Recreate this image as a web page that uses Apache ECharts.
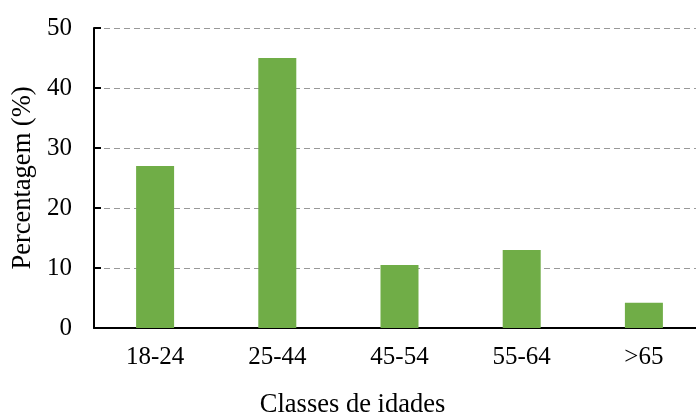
<!DOCTYPE html>
<html lang="pt">
<head>
<meta charset="utf-8">
<title>Classes de idades</title>
<script src="https://cdn.jsdelivr.net/npm/echarts@6/dist/echarts.min.js"></script>
<style>
  html, body { margin: 0; padding: 0; background: #fff; }
  #chart { width: 696px; height: 418px; }
</style>
</head>
<body>
<div id="chart"></div>
<script>
var categories = ['18-24', '25-44', '45-54', '55-64', '>65'];
var values = [27, 45, 10.5, 13, 4.2];
var yTicks = [0, 10, 20, 30, 40, 50];

var font = 'Liberation Serif';
var chart = echarts.init(document.getElementById('chart'));
chart.setOption({
  animation: false,
  grid: { left: 94, right: -9, top: 28, bottom: 90, containLabel: false, outerBoundsMode: 'none' },
  xAxis: {
    type: 'category',
    data: categories,
    name: 'Classes de idades',
    nameLocation: 'middle',
    nameGap: 64,
    nameTextStyle: { fontFamily: font, fontSize: 26.5, color: '#000', padding: [0, 94, 0, 0] },
    axisLine: { lineStyle: { color: '#000', width: 2 } },
    axisTick: { show: false },
    axisLabel: { fontFamily: font, fontSize: 25, color: '#000', margin: 17 }
  },
  yAxis: {
    type: 'value',
    min: yTicks[0],
    max: yTicks[yTicks.length - 1],
    interval: 10,
    name: 'Percentagem (%)',
    nameLocation: 'middle',
    nameGap: 56,
    nameTextStyle: { fontFamily: font, fontSize: 26.5, color: '#000' },
    axisLine: { show: true, lineStyle: { color: '#000', width: 2 } },
    axisTick: { show: true, inside: true, length: 7, lineStyle: { color: '#000', width: 2 } },
    axisLabel: { fontFamily: font, fontSize: 25, color: '#000', margin: 22 },
    splitLine: { lineStyle: { color: '#999', type: [6, 4], width: 1 } }
  },
  series: [{
    type: 'bar',
    data: values,
    barWidth: 38,
    itemStyle: { color: '#70AD47' }
  }]
});
</script>
</body>
</html>
